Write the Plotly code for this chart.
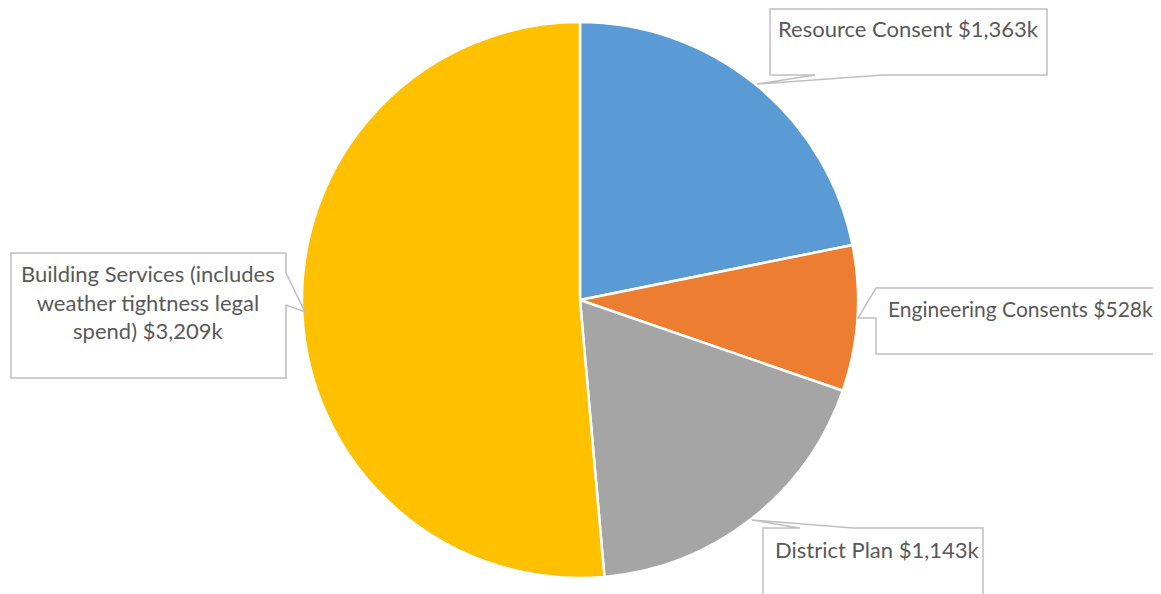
import plotly.graph_objects as go

OFF = 8  # page body margin
W, H = 1161 - OFF, 594 - OFF

categories = ["Resource Consent", "Engineering Consents", "District Plan",
              "Building Services (includes weather tightness legal spend)"]
values = [1363, 528, 1143, 3209]
colors = ["#5B9BD5", "#ED7D31", "#A5A5A5", "#FFC000"]
label_texts = ["Resource Consent $1,363k", "Engineering Consents $528k",
               "District Plan $1,143k",
               "Building Services (includes<br>weather tightness legal<br>spend) $3,209k"]

cx, cy, r = 580 - OFF, 300 - OFF, 278

fig = go.Figure(go.Pie(
    labels=categories, values=values, sort=False, direction="clockwise",
    rotation=0, marker=dict(colors=colors, line=dict(color="white", width=2.5)),
    textinfo="none", hoverinfo="label+value", showlegend=False,
    domain=dict(x=[(cx - r) / W, (cx + r) / W], y=[(H - cy - r) / H, (H - cy + r) / H]),
))

def px(x): return (x - OFF) / W
def py(y): return 1 - (y - OFF) / H

def path(pts):
    return "M " + " L ".join(f"{px(x):.5f},{py(y):.5f}" for x, y in pts) + " Z"

callouts = [
    [(770, 9), (1047, 9), (1047, 75), (883, 75), (757, 84), (815, 75), (770, 75)],
    [(876, 288), (1175, 288), (1175, 354), (876, 354), (876, 318), (858, 318), (876, 288)],
    [(763, 528), (800, 528), (752, 520), (853, 528), (983, 528), (983, 610), (763, 610)],
    [(11, 253), (286, 253), (286, 273), (305, 312), (286, 305), (286, 378), (11, 378)],
]
shapes = [dict(type="path", xref="paper", yref="paper", path=path(p),
               line=dict(color="#BFBFBF", width=1.5), fillcolor="rgba(255,255,255,1)")
          for p in callouts]

ann_pos = [
    (908, 29, "center", 22),
    (886, 308, "left", 21),
    (773, 549, "left", 22),
    (148, 302, "center", 22),
]
annotations = []
for (x, y, al, fs), t in zip(ann_pos, label_texts):
    annotations.append(dict(x=px(x), y=py(y), xref="paper", yref="paper",
                            text=t, showarrow=False, align="center",
                            font=dict(family="Lato, 'Open Sans', sans-serif", size=fs, color="#595959"),
                            xanchor=al, yanchor="middle"))

fig.update_layout(width=W, height=H, margin=dict(l=0, r=0, t=0, b=0),
                  paper_bgcolor="white", plot_bgcolor="white",
                  shapes=shapes, annotations=annotations)
fig.write_html("out.html")
